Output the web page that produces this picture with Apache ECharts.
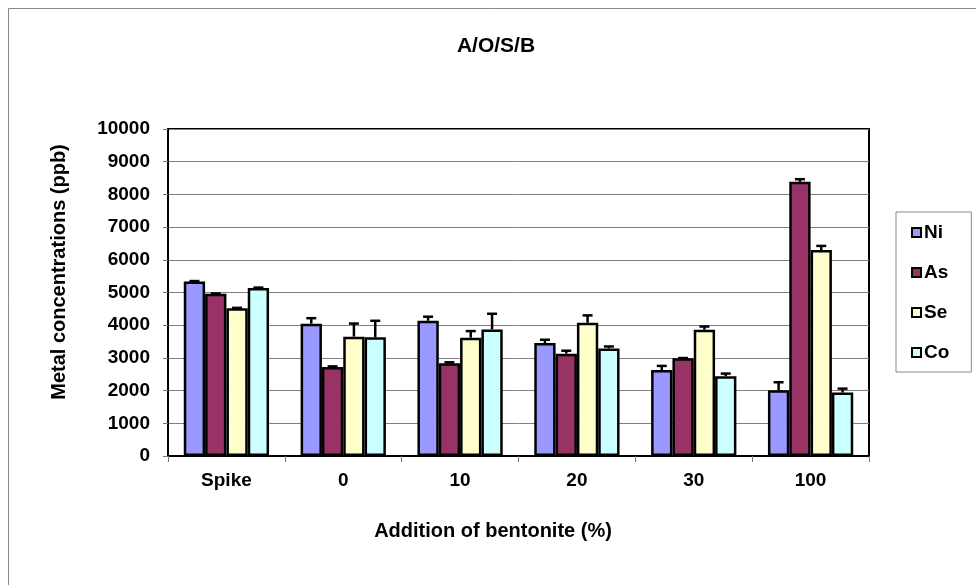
<!DOCTYPE html>
<html>
<head>
<meta charset="utf-8">
<script src="https://cdn.jsdelivr.net/npm/echarts@6/dist/echarts.min.js"></script>
<style>
html,body{margin:0;padding:0;background:#fff;}
#chart{width:976px;height:585px;}
</style>
</head>
<body>
<div id="chart"></div>
<script>
var categories = ['Spike', '0', '10', '20', '30', '100'];
var seriesNames = ['Ni', 'As', 'Se', 'Co'];
var niValues = [5340, 4045, 4135, 3455, 2630, 2010];
var asValues = [4960, 2720, 2835, 3130, 2990, 8385];
var seValues = [4520, 3650, 3620, 4075, 3860, 6300];
var coValues = [5140, 3630, 3870, 3290, 2440, 1940];
var niErrors = [10, 170, 125, 100, 125, 245];
var asErrors = [10, 20, 30, 90, 5, 80];
var seErrors = [10, 400, 200, 225, 100, 125];
var coErrors = [10, 505, 480, 60, 80, 120];
var yTicks = [0, 1000, 2000, 3000, 4000, 5000, 6000, 7000, 8000, 9000, 10000];

var colors = ['#9999FF', '#993366', '#FFFFCC', '#CCFFFF'];
var values = [niValues, asValues, seValues, coValues];
var errors = [niErrors, asErrors, seErrors, coErrors];
var FONT = '"Liberation Sans", Arial, sans-serif';
var GAP = 0.27;

var chart = echarts.init(document.getElementById('chart'), null, {renderer: 'canvas'});

var series = [];
seriesNames.forEach(function (name, i) {
  series.push({
    name: name,
    type: 'bar',
    data: values[i],
    barGap: '0%',
    barCategoryGap: (GAP * 100) + '%',
    itemStyle: {color: colors[i], borderColor: '#000', borderWidth: 2.5},
    emphasis: {disabled: true},
    z: 2
  });
});
seriesNames.forEach(function (name, i) {
  var errData = values[i].map(function (v, k) { return [k, v, errors[i][k]]; });
  series.push({
    name: name + ' error',
    type: 'custom',
    data: errData,
    z: 3,
    silent: true,
    renderItem: function (params, api) {
      var k = api.value(0);
      var v = api.value(1);
      var e = api.value(2);
      var catW = api.size([1, 0])[0];
      var bw = catW * (1 - GAP) / 4;
      var center = api.coord([k, v]);
      var x = center[0] + (i - 1.5) * bw;
      var yTop = api.coord([k, v + e])[1];
      var yBase = center[1];
      var cap = 5;
      return {
        type: 'group',
        children: [
          {type: 'line', shape: {x1: x, y1: yBase, x2: x, y2: yTop}, style: {stroke: '#000', lineWidth: 2.5}},
          {type: 'line', shape: {x1: x - cap, y1: yTop, x2: x + cap, y2: yTop}, style: {stroke: '#000', lineWidth: 2.5}}
        ]
      };
    }
  });
});

var option = {
  animation: false,
  textStyle: {fontFamily: FONT},
  grid: {
    left: 168, top: 129, right: 107, bottom: 129,
    show: true, borderColor: '#000', borderWidth: 2
  },
  legend: {
    data: seriesNames.map(function (n, i) {
      return {name: n, itemStyle: {color: colors[i], borderColor: '#000', borderWidth: 2}};
    }),
    orient: 'vertical',
    left: 896,
    top: 212,
    padding: [11, 22, 10, 15],
    itemWidth: 9,
    itemHeight: 9,
    itemGap: 21,
    icon: 'rect',
    borderColor: '#888',
    borderWidth: 1,
    selectedMode: false,
    textStyle: {fontFamily: FONT, fontWeight: 'bold', fontSize: 19, color: '#000', padding: [0, 0, 0, -2]}
  },
  xAxis: {
    type: 'category',
    data: categories,
    axisLine: {lineStyle: {color: '#000', width: 2}},
    axisTick: {show: true, length: 6, lineStyle: {color: '#777', width: 1}},
    axisLabel: {fontFamily: FONT, fontWeight: 'bold', fontSize: 19, color: '#000', margin: 15},
    splitLine: {show: false}
  },
  yAxis: {
    type: 'value',
    min: 0,
    max: 10000,
    interval: 1000,
    axisLine: {show: true, lineStyle: {color: '#000', width: 2}},
    axisTick: {show: true, length: 5, lineStyle: {color: '#777', width: 1}},
    axisLabel: {
      fontFamily: FONT, fontWeight: 'bold', fontSize: 19, color: '#000', margin: 18,
      formatter: function (v) { return yTicks.indexOf(v) >= 0 ? String(v) : ''; }
    },
    splitLine: {show: true, lineStyle: {color: '#808080', width: 1}}
  },
  graphic: [
    {type: 'rect', left: 6, top: 6, shape: {x: 0, y: 0, width: 1200, height: 900}, style: {fill: 'none', stroke: '#888', lineWidth: 1}, silent: true, z: -10},
    {type: 'text', x: 496, y: 46, style: {text: 'A/O/S/B', fontFamily: FONT, fontWeight: 'bold', fontSize: 21, fill: '#000', textAlign: 'center', textVerticalAlign: 'middle'}},
    {type: 'text', x: 493, y: 531, style: {text: 'Addition of bentonite (%)', fontFamily: FONT, fontWeight: 'bold', fontSize: 20, fill: '#000', textAlign: 'center', textVerticalAlign: 'middle'}},
    {type: 'text', x: 59, y: 272, rotation: Math.PI / 2, style: {text: 'Metal concentrations (ppb)', fontFamily: FONT, fontWeight: 'bold', fontSize: 20, fill: '#000', textAlign: 'center', textVerticalAlign: 'middle'}}
  ],
  series: series
};
chart.setOption(option);
</script>
</body>
</html>
